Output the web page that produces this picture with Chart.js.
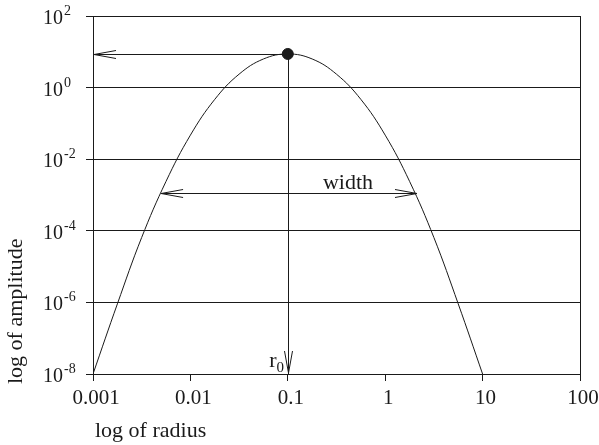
<!DOCTYPE html>
<html>
<head>
<meta charset="utf-8">
<script src="https://cdn.jsdelivr.net/npm/chart.js@4.4.0/dist/chart.umd.min.js"></script>
<style>
  body { margin: 0; background: #fff; }
  #wrap { width: 599px; height: 445px; position: relative; }
</style>
</head>
<body>
<div id="wrap"><canvas id="gaussplot"></canvas></div>
<script>
// curve, quarter-decade steps in radius
var radius = [0.001, 0.00178, 0.00316, 0.00562, 0.01, 0.0178, 0.0316, 0.0562, 0.1,
              0.178, 0.316, 0.562, 1, 1.78, 3.16, 5.62, 10];
var amplitude = [1e-8, 9.1e-7, 6.5e-5, 2.4e-3, 0.047, 0.47, 2.37, 6.3, 8.7,
                 6.3, 2.37, 0.47, 0.047, 2.4e-3, 6.5e-5, 9.1e-7, 1e-8];

// peak (r0) and the width marker
var peakRadius = 0.1;
var peakAmplitude = 8.7;
var widthLevel = 1.14e-3;
var widthFrom = 0.005;
var widthTo = 2.12;

// axis ticks
var xTicks = [0.001, 0.01, 0.1, 1, 10, 100];
var xTickLabels = ['0.001', '0.01', '0.1', '1', '10', '100'];
var yTicks = [1e2, 1, 1e-2, 1e-4, 1e-6, 1e-8];
var yExponents = ['2', '0', '-2', '-4', '-6', '-8'];

var ink = '#1a1a1a';
var serif = '"Liberation Serif", "Times New Roman", serif';

function arrowHead(ctx, tipX, tipY, dx, dy) {
  // open V head, dx/dy = unit direction the arrow points to
  var len = 22, half = 4;
  var bx = tipX - dx * len, by = tipY - dy * len;
  ctx.beginPath();
  ctx.moveTo(bx - dy * half, by + dx * half);
  ctx.lineTo(tipX, tipY);
  ctx.lineTo(bx + dy * half, by - dx * half);
  ctx.stroke();
}

var decorations = {
  id: 'decorations',
  afterDraw: function (chart) {
    var ctx = chart.ctx;
    var xs = chart.scales.x, ys = chart.scales.y;
    var area = chart.chartArea;
    ctx.save();
    ctx.strokeStyle = ink;
    ctx.fillStyle = ink;
    ctx.lineWidth = 1;

    // right frame edge
    ctx.beginPath();
    ctx.moveTo(Math.round(area.right) + 0.5, area.top);
    ctx.lineTo(Math.round(area.right) + 0.5, area.bottom);
    ctx.stroke();

    var px = Math.round(xs.getPixelForValue(peakRadius)) + 0.5;
    var py = Math.round(ys.getPixelForValue(peakAmplitude)) + 0.5;

    // arrow to amplitude axis
    ctx.beginPath();
    ctx.moveTo(px, py);
    ctx.lineTo(area.left, py);
    ctx.stroke();
    arrowHead(ctx, area.left + 1, py, -1, 0);

    // arrow down to r0
    ctx.beginPath();
    ctx.moveTo(px, py);
    ctx.lineTo(px, area.bottom);
    ctx.stroke();
    arrowHead(ctx, px, area.bottom - 1, 0, 1);

    // width arrow
    var wy = Math.round(ys.getPixelForValue(widthLevel)) + 0.5;
    var w1 = xs.getPixelForValue(widthFrom), w2 = xs.getPixelForValue(widthTo);
    ctx.beginPath();
    ctx.moveTo(w1, wy);
    ctx.lineTo(w2, wy);
    ctx.stroke();
    arrowHead(ctx, w1, wy, -1, 0);
    arrowHead(ctx, w2, wy, 1, 0);

    ctx.font = '22px ' + serif;
    ctx.textAlign = 'center';
    ctx.textBaseline = 'alphabetic';
    ctx.fillText('width', (w1 + w2) / 2 + 59, wy - 5);

    // r0 label
    ctx.textAlign = 'right';
    ctx.fillText('r', px - 12, area.bottom - 7);
    ctx.font = '15px ' + serif;
    ctx.textAlign = 'left';
    ctx.fillText('0', px - 12, area.bottom - 2);

    // y tick labels 10^n
    yTicks.forEach(function (v, i) {
      var y = ys.getPixelForValue(v);
      ctx.font = '20px ' + serif;
      ctx.textAlign = 'right';
      ctx.fillText('10', 63, y + 8);
      ctx.font = '14px ' + serif;
      ctx.textAlign = 'left';
      ctx.fillText(yExponents[i], 64, y - 1);
    });

    // x tick labels
    ctx.font = '21px ' + serif;
    ctx.textAlign = 'center';
    xTicks.forEach(function (v, i) {
      ctx.fillText(xTickLabels[i], xs.getPixelForValue(v) + 3, area.bottom + 30);
    });

    // axis titles
    ctx.font = '22px ' + serif;
    ctx.textAlign = 'left';
    ctx.fillText('log of radius', 95, 437);
    ctx.translate(22, 384);
    ctx.rotate(-Math.PI / 2);
    ctx.fillText('log of amplitude', 0, 0);
    ctx.restore();
  }
};

var ctx = document.getElementById('gaussplot');
var gaussplot = new Chart(ctx, {
  type: 'line',
  data: {
    datasets: [{
      label: 'amplitude',
      data: radius.map(function (r, i) { return { x: r, y: amplitude[i] }; }),
      borderColor: ink,
      borderWidth: 1,
      pointRadius: 0,
      tension: 0.4,
      fill: false
    }, {
      label: 'peak',
      data: [{ x: peakRadius, y: peakAmplitude }],
      showLine: false,
      pointRadius: 5.5,
      pointBackgroundColor: ink,
      pointBorderColor: ink
    }]
  },
  options: {
    responsive: true,
    maintainAspectRatio: false,
    animation: false,
    layout: { padding: { top: 16, right: 19, left: 0, bottom: 0 } },
    plugins: {
      legend: { display: false },
      tooltip: { enabled: false }
    },
    scales: {
      x: {
        type: 'logarithmic',
        min: 0.001,
        max: 100,
        afterBuildTicks: function (scale) {
          scale.ticks = xTicks.map(function (v) { return { value: v }; });
        },
        afterFit: function (scale) { scale.height = 71; },
        ticks: { display: false },
        grid: { drawOnChartArea: false, drawTicks: true, tickLength: 7, color: ink, lineWidth: 1 },
        border: { display: true, color: ink, width: 1 }
      },
      y: {
        type: 'logarithmic',
        min: 1e-8,
        max: 1e2,
        afterBuildTicks: function (scale) {
          scale.ticks = yTicks.map(function (v) { return { value: v }; });
        },
        afterFit: function (scale) { scale.width = 93; },
        ticks: { display: false },
        grid: { drawOnChartArea: true, drawTicks: true, tickLength: 7, color: ink, lineWidth: 1 },
        border: { display: true, color: ink, width: 1 }
      }
    }
  },
  plugins: [decorations]
});
</script>
</body>
</html>
